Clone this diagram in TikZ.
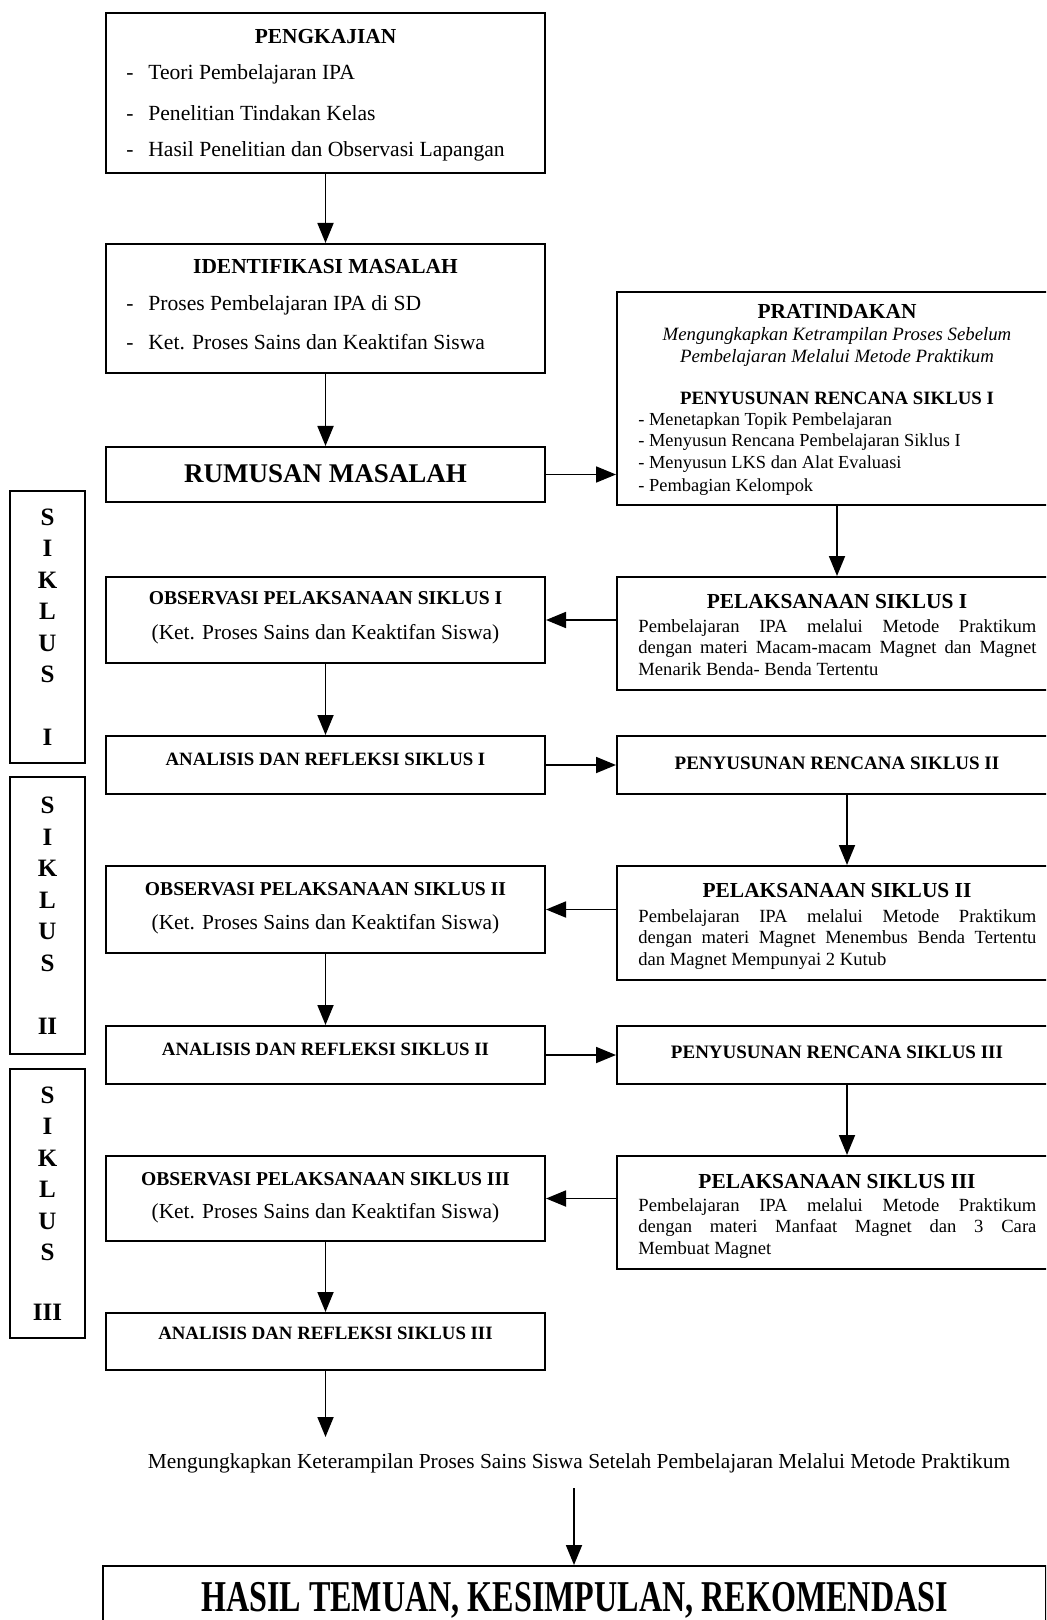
\documentclass[tikz,border=0pt]{standalone}
\usepackage{fontspec}
\setmainfont{Liberation Serif}
\usetikzlibrary{arrows.meta,fit}

\newcommand{\itemdash}{\makebox[11pt][l]{-}}

\begin{document}
\begin{tikzpicture}[x=0.5pt,y=-0.5pt,
    box/.style={draw,line width=1pt,inner sep=0pt},
    sidebox/.style={draw,line width=0.8pt,inner sep=0pt},
    arr/.style={line width=0.9pt,-{Triangle[length=10pt,width=8pt]}},
    ttl/.style={inner sep=0pt,font=\bfseries\fontsize{10.7}{12}\selectfont},
    smallttl/.style={inner sep=0pt,font=\bfseries\fontsize{9.4}{11}\selectfont},
    itm/.style={inner sep=0pt,anchor=west,font=\fontsize{10.8}{12}\selectfont},
    smallitm/.style={inner sep=0pt,anchor=west,font=\fontsize{9.2}{11}\selectfont},
    para/.style={inner sep=0pt,anchor=north west,text width=199pt,align=justify,
        font=\fontsize{9.3}{10.75}\selectfont},
    sidettl/.style={inner sep=0pt,align=center,font=\bfseries\fontsize{12.5}{15.75}\selectfont}]
    \useasboundingbox (0,0) rectangle (1046,1620);
    \clip (0,0) rectangle (1046,1620);

    % left column
    \node[box,fit={(106,13) (545,173)}] (pengkajian) {};
    \node[ttl] (pengkajian-t) at (325.5,37) {PENGKAJIAN};
    \node[itm] (pengkajian-a) at (126,74) {\itemdash Teori Pembelajaran IPA};
    \node[itm] (pengkajian-b) at (126,113) {\itemdash Penelitian Tindakan Kelas};
    \node[itm] (pengkajian-c) at (126,151) {\itemdash Hasil Penelitian dan Observasi Lapangan};

    \node[box,fit={(106,244) (545,373)}] (identifikasi) {};
    \node[ttl] (identifikasi-t) at (325.5,267) {IDENTIFIKASI MASALAH};
    \node[itm] (identifikasi-a) at (126,305) {\itemdash Proses Pembelajaran IPA di SD};
    \node[itm] (identifikasi-b) at (126,342) {\itemdash Ket. Proses Sains dan Keaktifan Siswa};

    \node[box,fit={(106,447) (545,502)}] (rumusan) {};
    \node[inner sep=0pt,font=\bfseries\fontsize{13.5}{15}\selectfont] (rumusan-t) at (325.5,474) {RUMUSAN MASALAH};

    \node[box,fit={(106,577) (545,663)}] (obs1) {};
    \node[ttl,font=\bfseries\fontsize{9.8}{11}\selectfont] (obs1-t) at (325.5,598) {OBSERVASI PELAKSANAAN SIKLUS I};
    \node[ttl,font=\fontsize{10.7}{12}\selectfont] (obs1-s) at (325.5,634) {(Ket. Proses Sains dan Keaktifan Siswa)};

    \node[box,fit={(106,736) (545,794)}] (anal1) {};
    \node[smallttl] (anal1-t) at (325.5,759) {ANALISIS DAN REFLEKSI SIKLUS I};

    \node[box,fit={(106,866) (545,953)}] (obs2) {};
    \node[ttl,font=\bfseries\fontsize{9.8}{11}\selectfont] (obs2-t) at (325.5,889) {OBSERVASI PELAKSANAAN SIKLUS II};
    \node[ttl,font=\fontsize{10.7}{12}\selectfont] (obs2-s) at (325.5,924) {(Ket. Proses Sains dan Keaktifan Siswa)};

    \node[box,fit={(106,1026) (545,1084)}] (anal2) {};
    \node[smallttl] (anal2-t) at (325.5,1049) {ANALISIS DAN REFLEKSI SIKLUS II};

    \node[box,fit={(106,1156) (545,1241)}] (obs3) {};
    \node[ttl,font=\bfseries\fontsize{9.8}{11}\selectfont] (obs3-t) at (325.5,1179) {OBSERVASI PELAKSANAAN SIKLUS III};
    \node[ttl,font=\fontsize{10.7}{12}\selectfont] (obs3-s) at (325.5,1213) {(Ket. Proses Sains dan Keaktifan Siswa)};

    \node[box,fit={(106,1313) (545,1370)}] (anal3) {};
    \node[smallttl] (anal3-t) at (325.5,1333) {ANALISIS DAN REFLEKSI SIKLUS III};

    % right column
    \node[box,fit={(617,292) (1057,505)}] (pratindakan) {};
    \node[ttl] (pratindakan-t) at (837,311) {PRATINDAKAN};
    \node[inner sep=0pt,align=center,font=\itshape\fontsize{9.4}{11}\selectfont] (pratindakan-s) at (837,347)
        {Mengungkapkan Ketrampilan Proses Sebelum\\Pembelajaran Melalui Metode Praktikum};
    \node[smallttl] (pratindakan-r) at (837,398) {PENYUSUNAN RENCANA SIKLUS I};
    \node[smallitm] (pratindakan-a) at (638,421) {- Menetapkan Topik Pembelajaran};
    \node[smallitm] (pratindakan-b) at (638,442) {- Menyusun Rencana Pembelajaran Siklus I};
    \node[smallitm] (pratindakan-c) at (638,464) {- Menyusun LKS dan Alat Evaluasi};
    \node[smallitm] (pratindakan-d) at (638,487) {- Pembagian Kelompok};

    \node[box,fit={(617,577) (1057,690)}] (pel1) {};
    \node[ttl] (pel1-t) at (837,602) {PELAKSANAAN SIKLUS I};
    \node[para] (pel1-b) at (638,619) {Pembelajaran IPA melalui Metode Praktikum\linebreak
        dengan materi Macam-macam Magnet dan Magnet\linebreak Menarik Benda- Benda Tertentu};

    \node[box,fit={(617,736) (1057,794)}] (pen2) {};
    \node[smallttl,font=\bfseries\fontsize{9.5}{11}\selectfont] (pen2-t) at (837,763) {PENYUSUNAN RENCANA SIKLUS II};

    \node[box,fit={(617,866) (1057,980)}] (pel2) {};
    \node[ttl] (pel2-t) at (837,891) {PELAKSANAAN SIKLUS II};
    \node[para] (pel2-b) at (638,909) {Pembelajaran IPA melalui Metode Praktikum\linebreak
        dengan materi Magnet Menembus Benda Tertentu\linebreak dan Magnet Mempunyai 2 Kutub};

    \node[box,fit={(617,1026) (1057,1084)}] (pen3) {};
    \node[smallttl,font=\bfseries\fontsize{9.5}{11}\selectfont] (pen3-t) at (837,1052) {PENYUSUNAN RENCANA SIKLUS III};

    \node[box,fit={(617,1156) (1057,1269)}] (pel3) {};
    \node[ttl] (pel3-t) at (837,1182) {PELAKSANAAN SIKLUS III};
    \node[para] (pel3-b) at (638,1198) {Pembelajaran IPA melalui Metode Praktikum\linebreak
        dengan materi Manfaat Magnet dan 3 Cara\linebreak Membuat Magnet};

    % siklus labels
    \node[sidebox,fit={(10,491) (85,763)}] (siklus1) {};
    \node[sidettl] (siklus1-t) at (siklus1) {S\\I\\K\\L\\U\\S\\[15.75pt]I};
    \node[sidebox,fit={(10,777) (85,1054)}] (siklus2) {};
    \node[sidettl] (siklus2-t) at (siklus2) {S\\I\\K\\L\\U\\S\\[15.75pt]II};
    \node[sidebox,fit={(10,1069) (85,1338)}] (siklus3) {};
    \node[sidettl] (siklus3-t) at (siklus3) {S\\I\\K\\L\\U\\S\\[14pt]III};

    % bottom
    \coordinate (a3) at (325.5,1437);
    \node[inner sep=0pt,font=\fontsize{10.7}{12}\selectfont] (tujuan) at (579,1463)
        {Mengungkapkan Keterampilan Proses Sains Siswa Setelah Pembelajaran Melalui Metode Praktikum};
    \coordinate (a4) at (574,1488);
    \node[box,fit={(103,1566) (1046,1700)}] (hasil) {};
    \node[inner sep=0pt,font=\bfseries\fontsize{22}{24}\selectfont] (hasil-t) at (574.5,1600)
        {\scalebox{0.73}[1]{HASIL TEMUAN, KESIMPULAN, REKOMENDASI}};

    % arrows
    \draw[arr] (pengkajian) -- (identifikasi);
    \draw[arr] (identifikasi) -- (rumusan);
    \draw[arr] (rumusan.east) -- (rumusan.east -| pratindakan.west);
    \draw[arr] (pratindakan) -- (pel1);
    \draw[arr] (obs1.east -| pel1.west) -- (obs1.east);
    \draw[arr] (obs1) -- (anal1);
    \draw[arr] (anal1.east) -- (anal1.east -| pen2.west);
    \draw[arr] ([xshift=5pt]pen2.south) -- ([xshift=5pt]pel2.north);
    \draw[arr] (obs2.east -| pel2.west) -- (obs2.east);
    \draw[arr] (obs2) -- (anal2);
    \draw[arr] (anal2.east) -- (anal2.east -| pen3.west);
    \draw[arr] ([xshift=5pt]pen3.south) -- ([xshift=5pt]pel3.north);
    \draw[arr] (obs3.east -| pel3.west) -- (obs3.east);
    \draw[arr] (obs3) -- (anal3);
    \draw[arr] (anal3) -- (a3);
    \draw[arr] (a4) -- (a4 |- hasil.north);
\end{tikzpicture}
\end{document}
